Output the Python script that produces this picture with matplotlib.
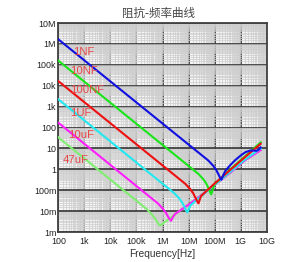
import numpy as np
import matplotlib.pyplot as plt
from matplotlib.ticker import LogLocator, FixedLocator, FixedFormatter, NullFormatter

plt.rcParams['font.family'] = ['Liberation Sans', 'Noto Sans CJK SC', 'DejaVu Sans']

# --- Data (log10 of Hz and log10 of Ohm) ---
labels = ['1NF', '10NF', '100NF', '1UF', '10uF', '47uF']

lf_1n = [2, 7.76, 7.96, 8.06, 8.16, 8.21, 8.26, 8.33, 8.41, 8.6, 8.8, 9.0, 9.18, 9.37, 9.5, 9.6, 9.7, 9.77]
lz_1n = [6.22, 0.42, 0.15, -0.03, -0.27, -0.41, -0.50, -0.28, -0.08, 0.2, 0.45, 0.66, 0.82, 0.9, 0.9, 0.88, 0.95, 1.05]

lf_10n = [2, 7.37, 7.57, 7.67, 7.77, 7.82, 7.87, 7.92, 7.97, 8.0, 8.6, 9.2, 9.77]
lz_10n = [5.2, -0.21, -0.48, -0.66, -0.92, -1.08, -1.20, -1.0, -0.8, -0.70, 0.0, 0.66, 1.29]

lf_100n = [2, 6.88, 7.08, 7.18, 7.28, 7.33, 7.38, 7.43, 7.48, 8.0, 8.6, 9.18, 9.77]
lz_100n = [4.22, -0.70, -0.97, -1.15, -1.40, -1.53, -1.63, -1.45, -1.28, -0.68, -0.03, 0.6, 1.22]

lf_1u = [2, 6.46, 6.66, 6.76, 6.86, 6.91, 6.96, 7.01, 7.08, 7.7, 8.6, 9.18, 9.77]
lz_1u = [3.35, -1.15, -1.42, -1.60, -1.84, -1.98, -2.06, -1.90, -1.72, -1.05, -0.12, 0.48, 1.0]

lf_10u = [2, 5.83, 6.03, 6.13, 6.23, 6.28, 6.33, 6.40, 6.48, 7.07, 7.7, 8.6, 9.18, 9.77]
lz_10u = [2.23, -1.64, -1.91, -2.08, -2.30, -2.40, -2.46, -2.28, -2.14, -1.63, -1.04, -0.16, 0.44, 0.92]

lf_47u = [2, 5.41, 5.61, 5.71, 5.81, 5.86, 5.91, 6.49, 7.07, 7.7, 8.6, 9.18, 9.77]
lz_47u = [1.53, -1.92, -2.19, -2.35, -2.55, -2.65, -2.69, -2.15, -1.62, -1.03, -0.15, 0.45, 0.95]

freq_ticks = ['100', '1k', '10k', '100k', '1M', '10M', '100M', '1G', '10G']
z_ticks = ['1m', '10m', '100m', '1', '10', '100', '1k', '10k', '100k', '1M', '10M']

# --- Plot ---
fig = plt.figure(figsize=(2.86, 2.62), dpi=100)
ax = fig.add_axes([0.204, 0.1145, 0.7285, 0.7975])
ax.set_facecolor('#f4f4f4')
ax.set_xscale('log')
ax.set_yscale('log')
ax.set_xlim(1e2, 1e10)
ax.set_ylim(1e-3, 1e7)

series = [
    (lf_47u, lz_47u, '#80ee70'),
    (lf_10u, lz_10u, '#ff1eff'),
    (lf_1u, lz_1u, '#22e8f0'),
    (lf_10n, lz_10n, '#19e619'),
    (lf_100n, lz_100n, '#ee1010'),
    (lf_1n, lz_1n, '#1010e0'),
]
for lf, lz, c in series:
    ax.plot(10 ** np.array(lf), 10 ** np.array(lz), color=c, lw=1.5, zorder=3)

# curve labels
label_pos = [(2.57, 5.61), (2.45, 4.70), (2.45, 3.79), (2.45, 2.69), (2.37, 1.64), (2.18, 0.44)]
for txt, (x, y) in zip(labels, label_pos):
    ax.text(10 ** x, 10 ** y, txt, color='#e84848', fontsize=8.2, va='center', ha='left', zorder=4)

# grid
ax.xaxis.set_major_locator(FixedLocator([10.0 ** k for k in range(2, 11)]))
ax.xaxis.set_major_formatter(FixedFormatter(freq_ticks))
ax.yaxis.set_major_locator(FixedLocator([10.0 ** k for k in range(-3, 8)]))
ax.yaxis.set_major_formatter(FixedFormatter(z_ticks))
subs = np.arange(1.5, 10, 0.5)
ax.xaxis.set_minor_locator(LogLocator(base=10, subs=subs, numticks=30))
ax.yaxis.set_minor_locator(LogLocator(base=10, subs=subs, numticks=30))
ax.xaxis.set_minor_formatter(NullFormatter())
ax.yaxis.set_minor_formatter(NullFormatter())
ax.grid(which='minor', color='#cdcdcd', lw=0.5)
ax.grid(which='major', color='#404040', lw=1.3)
ax.set_axisbelow(True)
ax.tick_params(which='both', length=0, labelsize=6.4, colors='#222222')
ax.tick_params(axis='y', pad=1.5)
ax.tick_params(axis='x', pad=3.5)
for s in ax.spines.values():
    s.set_color('#404040')
    s.set_linewidth(1.3)

ax.set_xlabel('Frequency[Hz]', fontsize=7.3, color='#333333', labelpad=2)
fig.text(0.553, 0.95, '阻抗-频率曲线', fontsize=8.3, color='#444444', ha='center', va='center',
         family=['Noto Sans CJK SC', 'DejaVu Sans'])

fig.savefig('out.png', dpi=100)
